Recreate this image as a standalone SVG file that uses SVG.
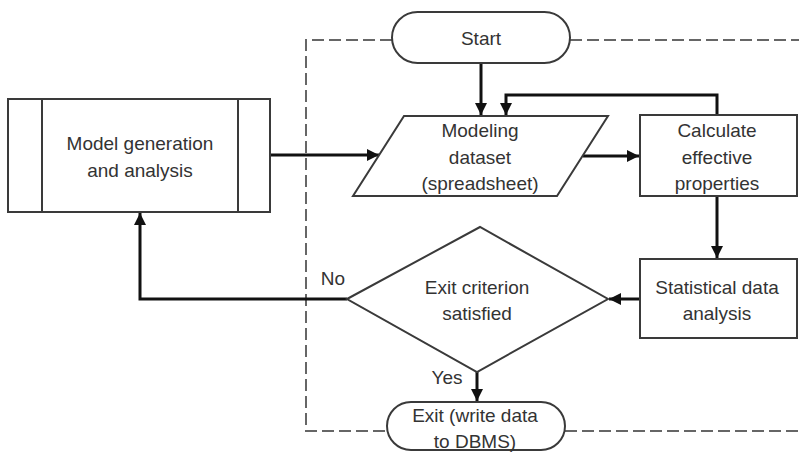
<svg xmlns="http://www.w3.org/2000/svg" width="799" height="452" viewBox="0 0 799 452">
<style>
.shape{fill:#fff;stroke:#3a3a3a;stroke-width:2}
.conn{fill:none;stroke:#111;stroke-width:3}
.dash{fill:none;stroke:#666;stroke-width:2;stroke-dasharray:12 5}
text{font-family:"Liberation Sans",Arial,sans-serif;font-size:19px;fill:#333;text-anchor:middle;dominant-baseline:central}
</style>
<defs>
<marker id="arr" markerUnits="userSpaceOnUse" markerWidth="12" markerHeight="12" viewBox="0 0 12 12" refX="12" refY="6" orient="auto">
<path d="M0,0 L12,6 L0,12 z" fill="#111"/>
</marker>
</defs>
<rect width="799" height="452" fill="#fff"/>
<g id="boundary">
<path class="dash" d="M392,40 H306 V431 H387"/>
<path class="dash" d="M570,40 H799"/>
<path class="dash" d="M565,431 H799"/>
</g>
<g id="connectors">
<path class="conn" d="M481,63 V115" marker-end="url(#arr)"/>
<path class="conn" d="M717,115 V95 H506 V115" marker-end="url(#arr)"/>
<path class="conn" d="M270,155 H379" marker-end="url(#arr)"/>
<path class="conn" d="M583,156 H639" marker-end="url(#arr)"/>
<path class="conn" d="M717,196 V258" marker-end="url(#arr)"/>
<path class="conn" d="M640,299 H609" marker-end="url(#arr)"/>
<path class="conn" d="M347,299 H140 V213" marker-end="url(#arr)"/>
<path class="conn" d="M477,372 V401" marker-end="url(#arr)"/>
</g>
<g id="start">
<rect class="shape" x="392" y="12" width="178" height="51" rx="25.5"/>
<text x="481" y="38">Start</text>
</g>
<g id="model">
<rect class="shape" x="8" y="99" width="262" height="113"/>
<line class="shape" x1="42" y1="99" x2="42" y2="212"/>
<line class="shape" x1="238" y1="99" x2="238" y2="212"/>
<text x="140" y="143">Model generation</text>
<text x="140" y="170">and analysis</text>
</g>
<g id="dataset">
<polygon class="shape" points="404,116 608,116 557,196 353,196"/>
<text x="480" y="130">Modeling</text>
<text x="480" y="157">dataset</text>
<text x="480" y="183">(spreadsheet)</text>
</g>
<g id="calculate">
<rect class="shape" x="640" y="115" width="157" height="81"/>
<text x="717" y="130">Calculate</text>
<text x="717" y="157">effective</text>
<text x="717" y="183">properties</text>
</g>
<g id="statistical">
<rect class="shape" x="640" y="259" width="157" height="79"/>
<text x="717" y="287">Statistical data</text>
<text x="717" y="313">analysis</text>
</g>
<g id="decision">
<polygon class="shape" points="347,299 480,227 608,299 477,372"/>
<text x="477" y="287">Exit criterion</text>
<text x="477" y="313">satisfied</text>
<text x="333" y="278">No</text>
<text x="447" y="377">Yes</text>
</g>
<g id="exit">
<rect class="shape" x="387" y="402" width="178" height="48" rx="24"/>
<text x="475" y="415">Exit (write data</text>
<text x="475" y="441">to DBMS)</text>
</g>
</svg>
